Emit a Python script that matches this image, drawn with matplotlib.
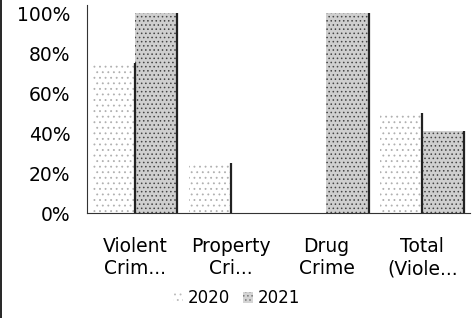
import numpy as np
import matplotlib.pyplot as plt
from matplotlib.patches import Patch
from matplotlib.ticker import PercentFormatter

plt.rcParams['hatch.linewidth'] = 0.6

categories = ["Violent\nCrim...", "Property\nCri...", "Drug\nCrime", "Total\n(Viole..."]
years = ["2020", "2021"]
values_2020 = [0.75, 0.25, 0.0, 0.50]
values_2021 = [1.00, 0.0, 1.00, 0.41]

x = np.arange(len(categories))
w = 0.44

fig = plt.figure(figsize=(4.73, 3.18), dpi=100)
ax = fig.add_axes([0.184, 0.33, 0.81, 0.654])

# 2020: white with sparse grey dots, 2021: grey with dense dots
ax.bar(x - w / 2, values_2020, w, color="white", edgecolor="#b0b0b0",
       hatch="...", linewidth=0)
ax.bar(x + w / 2, values_2021, w, color="#cfcfcf", edgecolor="#444444",
       hatch="....", linewidth=0)

# dark right edges on the bars
for xs, vals in [(x - w / 2, values_2020), (x + w / 2, values_2021)]:
    for xi, v in zip(xs, vals):
        if v > 0:
            ax.vlines(xi + w / 2, 0, v, color="#222222", lw=1.6)

ax.set_xlim(-0.5, 3.5)
ax.set_ylim(0, 1.04)
ax.set_yticks([0, 0.2, 0.4, 0.6, 0.8, 1.0])
ax.yaxis.set_major_formatter(PercentFormatter(1.0, decimals=0))
ax.set_xticks(x)
ax.set_xticklabels(categories, fontsize=13.5, linespacing=1.25)
ax.tick_params(axis="y", labelsize=13.5, length=0, pad=12)
ax.tick_params(axis="x", length=0, pad=17)

for s in ["top", "right"]:
    ax.spines[s].set_visible(False)
ax.spines["left"].set_color("#333333")
ax.spines["bottom"].set_color("#333333")
ax.spines["left"].set_linewidth(0.8)
ax.spines["bottom"].set_linewidth(0.8)

handles = [Patch(facecolor="white", edgecolor="#bbbbbb", hatch="...", linewidth=0),
           Patch(facecolor="#d4d4d4", edgecolor="#777777", hatch="....", linewidth=0)]
fig.legend(handles, years, loc="center", bbox_to_anchor=(0.5, 0.062), ncol=2,
           frameon=False, fontsize=12, handlelength=0.6, handleheight=0.6,
           handletextpad=0.3, columnspacing=0.8)

# left border line of the scan
fig.add_artist(plt.Line2D([0.003, 0.003], [0.0, 1.0], color="black", lw=1.2))

fig.savefig("out.png", dpi=100)
